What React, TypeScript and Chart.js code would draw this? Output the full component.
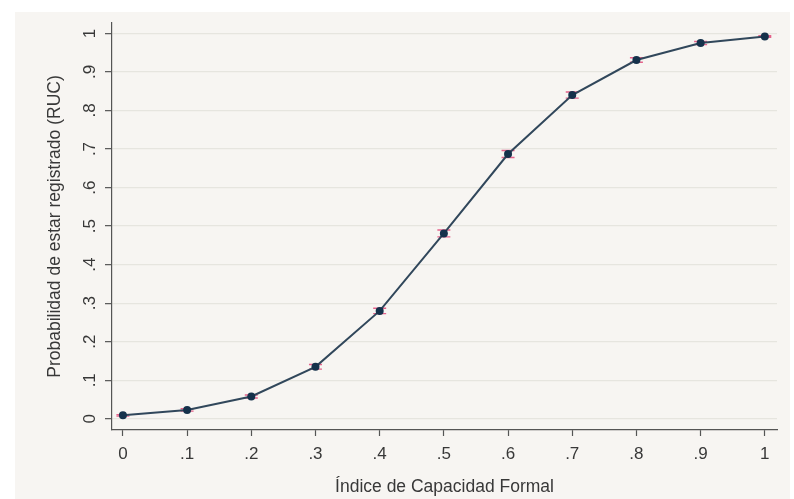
import React, { useEffect, useRef } from "react";
import { Chart, registerables } from "chart.js";

Chart.register(...registerables);

// Predicted probability at each value of the index, with 95% CI bounds
const indexValues = [0, 0.1, 0.2, 0.3, 0.4, 0.5, 0.6, 0.7, 0.8, 0.9, 1];
const probability = [0.009, 0.023, 0.058, 0.135, 0.28, 0.481, 0.687, 0.84, 0.931, 0.975, 0.992];
const ciLower = [0.007, 0.02, 0.054, 0.129, 0.273, 0.472, 0.678, 0.832, 0.925, 0.971, 0.99];
const ciUpper = [0.011, 0.026, 0.062, 0.141, 0.287, 0.49, 0.696, 0.848, 0.937, 0.979, 0.994];

const xTickValues = [0, 0.1, 0.2, 0.3, 0.4, 0.5, 0.6, 0.7, 0.8, 0.9, 1];
const xTickLabels = ["0", ".1", ".2", ".3", ".4", ".5", ".6", ".7", ".8", ".9", "1"];
const yTickValues = [0, 0.1, 0.2, 0.3, 0.4, 0.5, 0.6, 0.7, 0.8, 0.9, 1];
const yTickLabels = ["0", ".1", ".2", ".3", ".4", ".5", ".6", ".7", ".8", ".9", "1"];

const xTitle = "Índice de Capacidad Formal";
const yTitle = "Probabilidad de estar registrado (RUC)";

const FONT = "'Liberation Sans', Arial, sans-serif";
const TEXT_COLOR = "#383838";

const W = 794;
const H = 499;

export default function App() {
  const canvasRef = useRef<HTMLCanvasElement | null>(null);

  useEffect(() => {
    const canvas = canvasRef.current;
    if (!canvas) return;

    // Confidence-interval caps, drawn beneath the markers
    const ciPlugin = {
      id: "ciCaps",
      beforeDatasetsDraw(chart: any) {
        const ctx = chart.ctx;
        const xs = chart.scales.x;
        const ys = chart.scales.y;
        ctx.save();
        ctx.strokeStyle = "#e4628a";
        ctx.lineWidth = 1.4;
        indexValues.forEach((xv, i) => {
          const px = xs.getPixelForValue(xv);
          const lo = ys.getPixelForValue(ciLower[i]);
          const hi = ys.getPixelForValue(ciUpper[i]);
          ctx.beginPath();
          ctx.moveTo(px - 6.5, lo);
          ctx.lineTo(px + 6.5, lo);
          ctx.moveTo(px - 6.5, hi);
          ctx.lineTo(px + 6.5, hi);
          ctx.moveTo(px, lo);
          ctx.lineTo(px, hi);
          ctx.stroke();
        });
        ctx.restore();
      },
    };

    // Vertical-axis tick labels and title, rotated to read upward
    const yTextPlugin = {
      id: "yText",
      afterDraw(chart: any) {
        const ctx = chart.ctx;
        const ys = chart.scales.y;
        const area = chart.chartArea;
        ctx.save();
        ctx.fillStyle = TEXT_COLOR;
        ctx.font = `17px ${FONT}`;
        ctx.textAlign = "center";
        ctx.textBaseline = "middle";
        yTickValues.forEach((v, i) => {
          const py = ys.getPixelForValue(v);
          ctx.save();
          ctx.translate(90, py);
          ctx.rotate(-Math.PI / 2);
          ctx.fillText(yTickLabels[i], 0, 0);
          ctx.restore();
        });
        ctx.font = `17.5px ${FONT}`;
        ctx.save();
        ctx.translate(55, (area.top + area.bottom) / 2);
        ctx.rotate(-Math.PI / 2);
        ctx.fillText(yTitle, 0, 0);
        ctx.restore();
        // horizontal-axis title
        ctx.fillText(xTitle, (area.left + area.right) / 2, 487);
        ctx.restore();
      },
    };

    const chart = new Chart(canvas, {
      type: "line",
      data: {
        datasets: [
          {
            data: indexValues.map((x, i) => ({ x, y: probability[i] })),
            borderColor: "#31475b",
            borderWidth: 2,
            pointBackgroundColor: "#15314b",
            pointBorderColor: "#15314b",
            pointRadius: 4,
            pointBorderWidth: 0,
            tension: 0,
            fill: false,
          },
        ],
      },
      options: {
        responsive: false,
        animation: false,
        events: [],
        layout: { padding: { top: 23, right: 17, left: 0, bottom: 0 } },
        plugins: {
          legend: { display: false },
          tooltip: { enabled: false },
        },
        scales: {
          x: {
            type: "linear",
            min: -0.017,
            max: 1.019,
            afterFit(scale: any) {
              scale.height = H - 430;
            },
            afterBuildTicks(scale: any) {
              scale.ticks = xTickValues.map((value) => ({ value }));
            },
            border: { color: "#555555", width: 1.2 },
            grid: {
              drawOnChartArea: false,
              drawTicks: true,
              tickLength: 6,
              tickColor: "#555555",
              tickWidth: 1.2,
            },
            ticks: {
              autoSkip: false,
              maxRotation: 0,
              minRotation: 0,
              padding: 8,
              color: TEXT_COLOR,
              font: { family: FONT, size: 17 },
              callback: (_v: any, i: number) => xTickLabels[i],
            },
          },
          y: {
            type: "linear",
            min: -0.029,
            max: 1.027,
            afterFit(scale: any) {
              scale.width = 112;
            },
            afterBuildTicks(scale: any) {
              scale.ticks = yTickValues.map((value) => ({ value }));
            },
            border: { color: "#555555", width: 1.2 },
            grid: {
              color: "#e6e5df",
              lineWidth: 1.3,
              drawTicks: true,
              tickLength: 7,
              tickColor: "#555555",
              tickWidth: 1.2,
            },
            ticks: { display: false },
          },
        },
      },
      plugins: [ciPlugin, yTextPlugin],
    });

    return () => chart.destroy();
  }, []);

  return (
    <div
      style={{
        position: "fixed",
        left: 0,
        top: 0,
        width: W,
        height: H,
        background: "#ffffff",
        overflow: "hidden",
      }}
    >
      <div
        style={{
          position: "absolute",
          left: 15,
          top: 12,
          right: 4,
          bottom: 0,
          background: "#f7f5f2",
        }}
      />
      <canvas
        ref={canvasRef}
        width={W}
        height={H}
        style={{ position: "absolute", left: 0, top: 0, width: W, height: H }}
      />
    </div>
  );
}
